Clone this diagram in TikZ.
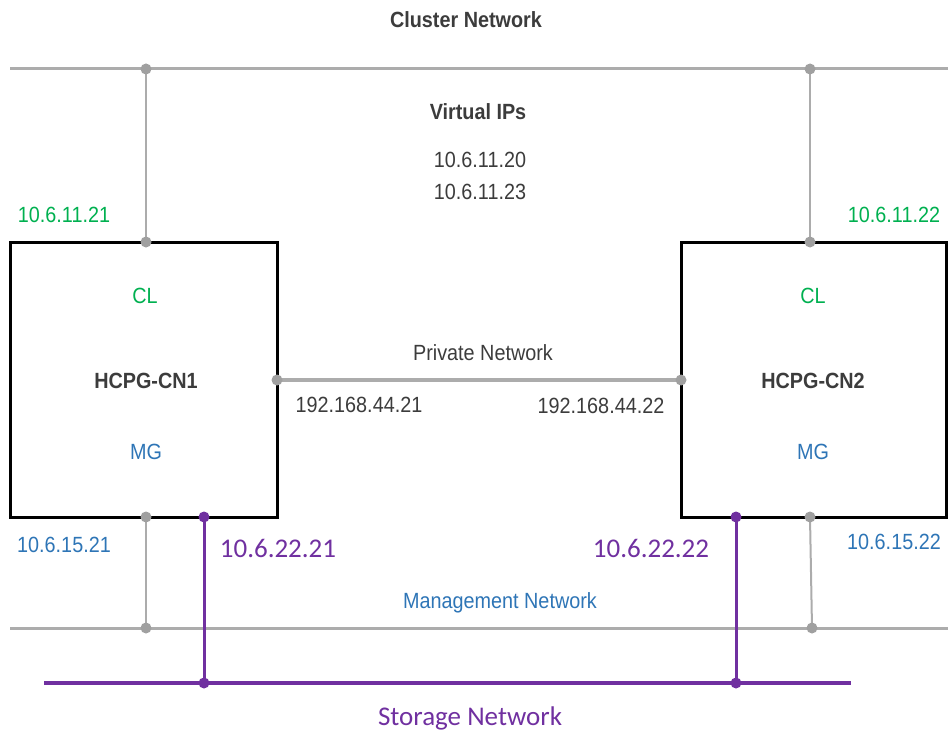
\documentclass[tikz,border=0pt]{standalone}
\usepackage{fontspec}
\setmainfont{Liberation Sans}
\newfontfamily\narrow[FakeStretch=0.9]{Liberation Sans}
\newfontfamily\calib{Carlito}
\usetikzlibrary{backgrounds}
\definecolor{lgray}{RGB}{172,172,172}
\definecolor{dgray}{RGB}{160,160,160}
\definecolor{txt}{RGB}{60,60,60}
\definecolor{grn}{RGB}{0,176,80}
\definecolor{blu}{RGB}{46,117,182}
\definecolor{pur}{RGB}{112,48,160}
\tikzset{
  box/.style={draw=black, line width=3pt, inner sep=0pt},
  dot/.style={circle, fill=dgray, inner sep=0pt, minimum size=11pt},
  pdot/.style={circle, fill=pur, inner sep=0pt, minimum size=11pt},
  lbl/.style={font=\narrow\fontsize{22}{26}\selectfont, text=txt, inner sep=0pt},
  blbl/.style={font=\narrow\bfseries\fontsize{22}{26}\selectfont, text=txt, inner sep=0pt},
  glbl/.style={lbl, text=grn},
  ulbl/.style={lbl, text=blu},
  plbl/.style={font=\calib\fontsize{27}{32}\selectfont, text=pur, inner sep=0pt},
  gline/.style={draw=lgray, line width=3pt},
  vline/.style={draw=lgray, line width=2pt},
  pline/.style={draw=pur, line width=3.5pt},
}
\begin{document}
\begin{tikzpicture}[x=1pt,y=-1pt]
\useasboundingbox (0,0) rectangle (948,733);
% boxes
\node[box, minimum width=267pt, minimum height=275pt] (cn1) at (143.5,379.5) {};
\node[box, minimum width=265pt, minimum height=275pt] (cn2) at (813.5,379.5) {};
% end points and dots
\coordinate (cl) at (10,69);
\coordinate (cr) at (948,69);
\coordinate (ml) at (10,628);
\coordinate (mr) at (948,628);
\coordinate (sl) at (44,683);
\coordinate (sr) at (851,683);
\node[dot] (c1) at (146,69) {};
\node[dot] (c2) at (810,69) {};
\node[dot] (t1) at (146,242) {};
\node[dot] (t2) at (810,242) {};
\node[dot] (p1) at (277,380) {};
\node[dot] (p2) at (681,380) {};
\node[dot] (b1) at (146,517) {};
\node[dot] (b2) at (810,517) {};
\node[dot] (m1) at (146,628) {};
\node[dot] (m2) at (812,628) {};
\node[pdot] (s1) at (204,517) {};
\node[pdot] (s2) at (736,517) {};
\node[pdot] (g1) at (204,683) {};
\node[pdot] (g2) at (736,683) {};
% connectors behind
\begin{scope}[on background layer]
\draw[gline] (cl) -- (cr);
\draw[gline] (ml) -- (mr);
\draw[vline] (c1.center) -- (t1.center);
\draw[vline] (c2.center) -- (t2.center);
\draw[vline] (b1.center) -- (m1.center);
\draw[vline] (b2.center) -- (m2.center);
\draw[draw=lgray, line width=4pt] (p1.center) -- (p2.center);
\draw[pline] (sl) -- (sr);
\draw[draw=pur, line width=3pt] (s1.center) -- (g1.center);
\draw[draw=pur, line width=3pt] (s2.center) -- (g2.center);
\end{scope}
% texts
\node[blbl] (clusn) at (466,20) {Cluster Network};
\node[blbl] (vip) at (478,112) {Virtual IPs};
\node[lbl] (v1) at (480,160) {10.6.11.20};
\node[lbl] (v2) at (480,192) {10.6.11.23};
\node[glbl] (ip1) at (64,215) {10.6.11.21};
\node[glbl] (ip2) at (894,215) {10.6.11.22};
\node[glbl] (cl1) at (145,296) {CL};
\node[glbl] (cl2) at (813,296) {CL};
\node[blbl] (n1) at (146,381) {HCPG-CN1};
\node[blbl] (n2) at (813,381) {HCPG-CN2};
\node[ulbl] (mg1) at (146,452) {MG};
\node[ulbl] (mg2) at (813,452) {MG};
\node[lbl] (pn) at (483,353) {Private Network};
\node[lbl] (pa1) at (359,405) {192.168.44.21};
\node[lbl] (pa2) at (601,406) {192.168.44.22};
\node[ulbl] (ma1) at (64,545) {10.6.15.21};
\node[ulbl] (ma2) at (894,542) {10.6.15.22};
\node[ulbl] (mn) at (500,603) {Management Network};
\node[plbl] (sa1) at (278,548) {10.6.22.21};
\node[plbl] (sa2) at (651,548) {10.6.22.22};
\node[plbl] (sn) at (470,718) {Storage Network};
\end{tikzpicture}
\end{document}
